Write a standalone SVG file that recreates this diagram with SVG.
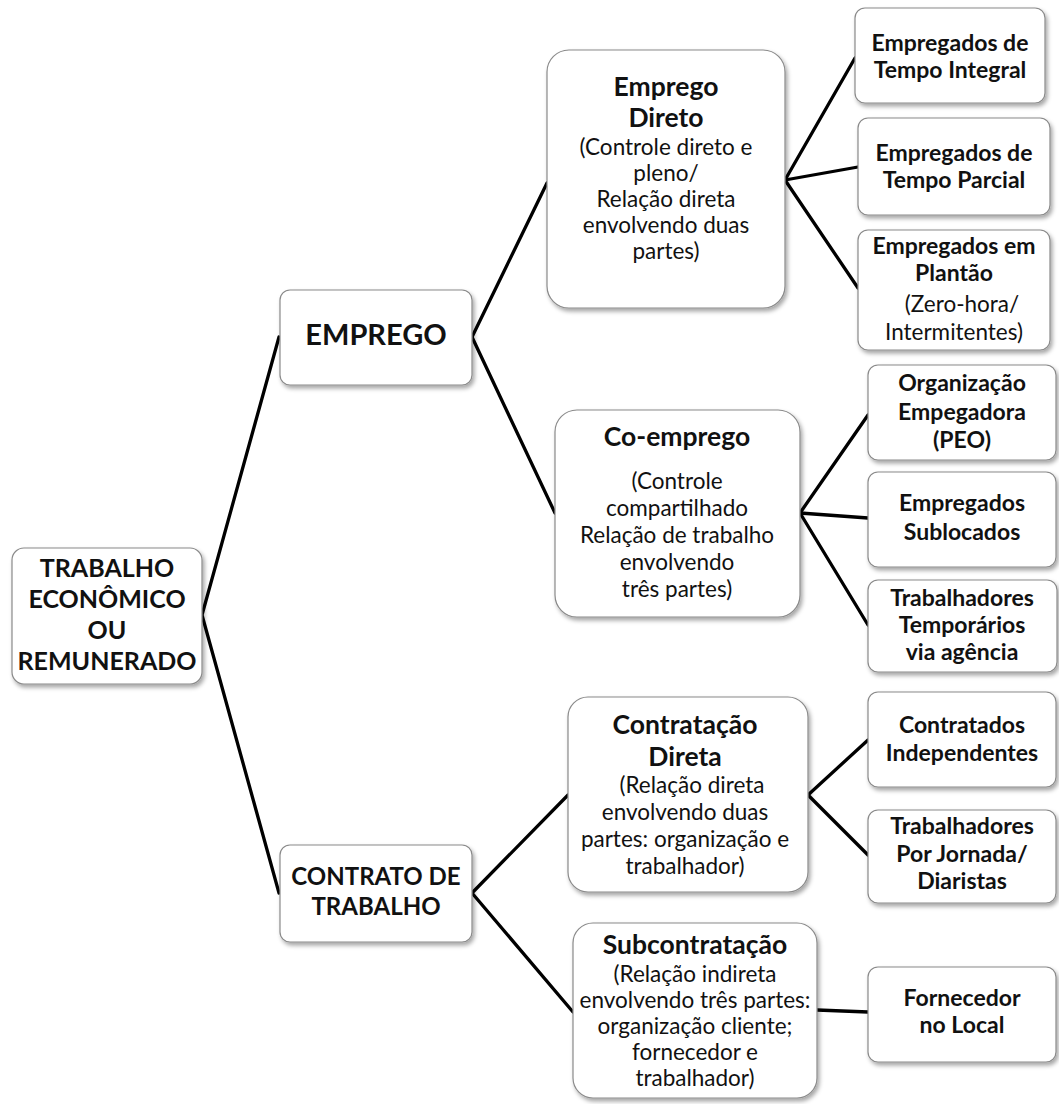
<svg xmlns="http://www.w3.org/2000/svg" width="1059" height="1104" viewBox="0 0 1059 1104">
<defs>
<filter id="sh" x="-10%" y="-10%" width="125%" height="130%">
<feDropShadow dx="2" dy="3" stdDeviation="2" flood-color="#000" flood-opacity="0.35"/>
</filter>
<style>
.box{fill:#fff;stroke:#8a8a8a;stroke-width:1.2;filter:url(#sh)}
text{font-family:Lato,"Noto Sans","DejaVu Sans",sans-serif;fill:#111;text-anchor:middle}
.b{font-weight:bold;font-size:23px}
.t{font-weight:bold;font-size:26.5px}
.r{font-size:22.5px}
.root{font-weight:bold;font-size:25px}
.l1{font-weight:bold;font-size:29px}
.l1b{font-weight:bold;font-size:24px}
.con line,.con polyline{stroke:#000;stroke-width:3.3;fill:none;stroke-linecap:round;stroke-linejoin:round}
</style>
</defs>
<rect width="1059" height="1104" fill="#fff"/>
<g class="con" id="connectors">
<polyline points="279,337 202,615 279,893"/>
<polyline points="547,183 472,337 555,513"/>
<polyline points="568,795 472,893 573,1012"/>
<line x1="785" y1="180" x2="855" y2="58"/>
<line x1="785" y1="180" x2="858" y2="167"/>
<line x1="785" y1="180" x2="858" y2="288"/>
<line x1="800" y1="513" x2="868" y2="415"/>
<line x1="800" y1="513" x2="868" y2="518"/>
<line x1="800" y1="513" x2="868" y2="625"/>
<line x1="808" y1="795" x2="868" y2="740"/>
<line x1="808" y1="795" x2="868" y2="855"/>
<line x1="817" y1="1010" x2="868" y2="1012"/>
</g>
<g id="root">
<rect class="box" x="12" y="548" width="190" height="136" rx="12"/>
<text class="root" x="107" y="577">TRABALHO</text>
<text class="root" x="107" y="608">ECONÔMICO</text>
<text class="root" x="107" y="639">OU</text>
<text class="root" x="107" y="670">REMUNERADO</text>
</g>
<g id="emprego">
<rect class="box" x="280" y="290" width="192" height="95" rx="10"/>
<text class="l1" x="376" y="345">EMPREGO</text>
</g>
<g id="contrato">
<rect class="box" x="280" y="845" width="192" height="97" rx="10"/>
<text class="l1b" x="376" y="885">CONTRATO DE</text>
<text class="l1b" x="376" y="915">TRABALHO</text>
</g>
<g id="emprego-direto">
<rect class="box" x="547" y="50" width="238" height="258" rx="22"/>
<text class="t" x="666" y="96">Emprego</text>
<text class="t" x="666" y="127">Direto</text>
<text class="r" x="666" y="155">(Controle direto e</text>
<text class="r" x="666" y="181">pleno/</text>
<text class="r" x="666" y="207">Relação direta</text>
<text class="r" x="666" y="233">envolvendo duas</text>
<text class="r" x="666" y="259">partes)</text>
</g>
<g id="tempo-integral">
<rect class="box" x="855" y="8" width="190" height="95" rx="10"/>
<text class="b" x="950" y="51">Empregados  de</text>
<text class="b" x="950" y="78">Tempo Integral</text>
</g>
<g id="tempo-parcial">
<rect class="box" x="858" y="118" width="192" height="97" rx="10"/>
<text class="b" x="954" y="161">Empregados de</text>
<text class="b" x="954" y="188">Tempo Parcial</text>
</g>
<g id="plantao">
<rect class="box" x="858" y="230" width="192" height="120" rx="10"/>
<text class="b" x="954" y="254">Empregados em</text>
<text class="b" x="954" y="281">Plantão</text>
<text class="r" x="962" y="312">(Zero-hora/</text>
<text class="r" x="954" y="340">Intermitentes)</text>
</g>
<g id="co-emprego">
<rect class="box" x="555" y="410" width="245" height="207" rx="22"/>
<text class="t" x="677" y="446">Co-emprego</text>
<text class="r" x="677" y="489">(Controle</text>
<text class="r" x="677" y="516">compartilhado</text>
<text class="r" x="677" y="543">Relação de trabalho</text>
<text class="r" x="677" y="570">envolvendo</text>
<text class="r" x="677" y="597">três partes)</text>
</g>
<g id="peo">
<rect class="box" x="868" y="365" width="188" height="95" rx="10"/>
<text class="b" x="962" y="391">Organização</text>
<text class="b" x="962" y="420">Empegadora</text>
<text class="b" x="962" y="448">(PEO)</text>
</g>
<g id="sublocados">
<rect class="box" x="868" y="472" width="188" height="95" rx="10"/>
<text class="b" x="962" y="511">Empregados</text>
<text class="b" x="962" y="540">Sublocados</text>
</g>
<g id="temporarios">
<rect class="box" x="868" y="580" width="189" height="92" rx="10"/>
<text class="b" x="962" y="606">Trabalhadores</text>
<text class="b" x="962" y="633">Temporários</text>
<text class="b" x="962" y="660">via agência</text>
</g>
<g id="contratacao-direta">
<rect class="box" x="568" y="697" width="240" height="195" rx="20"/>
<text class="t" x="685" y="734">Contratação</text>
<text class="t" x="685" y="766">Direta</text>
<text class="r" x="692" y="793">(Relação direta</text>
<text class="r" x="685" y="820">envolvendo  duas</text>
<text class="r" x="685" y="847">partes: organização e</text>
<text class="r" x="685" y="874">trabalhador)</text>
</g>
<g id="independentes">
<rect class="box" x="868" y="692" width="188" height="95" rx="10"/>
<text class="b" x="962" y="733">Contratados</text>
<text class="b" x="962" y="761">Independentes</text>
</g>
<g id="jornada">
<rect class="box" x="868" y="810" width="188" height="93" rx="10"/>
<text class="b" x="962" y="834">Trabalhadores</text>
<text class="b" x="962" y="862">Por Jornada/</text>
<text class="b" x="962" y="889">Diaristas</text>
</g>
<g id="subcontratacao">
<rect class="box" x="573" y="923" width="244" height="175" rx="20"/>
<text class="t" x="695" y="954">Subcontratação</text>
<text class="r" x="695" y="982">(Relação indireta</text>
<text class="r" x="695" y="1008">envolvendo três partes:</text>
<text class="r" x="695" y="1034">organização cliente;</text>
<text class="r" x="695" y="1060">fornecedor e</text>
<text class="r" x="695" y="1086">trabalhador)</text>
</g>
<g id="fornecedor">
<rect class="box" x="868" y="967" width="188" height="95" rx="10"/>
<text class="b" x="962" y="1006">Fornecedor</text>
<text class="b" x="962" y="1033">no Local</text>
</g>
</svg>
